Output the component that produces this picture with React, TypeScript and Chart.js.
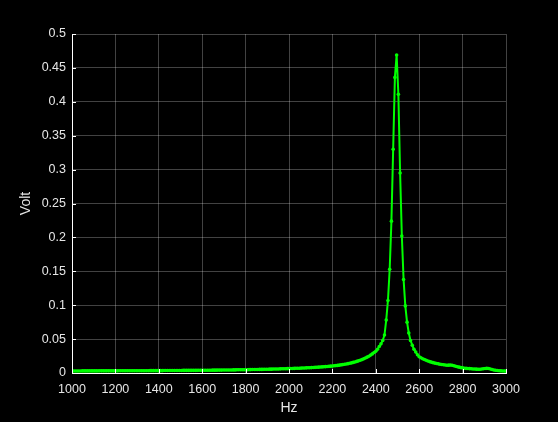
import React, { useEffect, useRef } from 'react';
import Chart from 'chart.js/auto';

// frequency sweep: 1000 Hz to 3000 Hz in 8 Hz steps
const sweepStartHz = 1000;
const sweepStepHz = 8;

// measured amplitude (Volt), one array per 200 Hz band
const volt1000 = [0.0030, 0.0030, 0.0030, 0.0030, 0.0030, 0.0030, 0.0031, 0.0031, 0.0031, 0.0031, 0.0031, 0.0031, 0.0031, 0.0031, 0.0031, 0.0031, 0.0032, 0.0032, 0.0032, 0.0032, 0.0032, 0.0032, 0.0032, 0.0032, 0.0032];
const volt1200 = [0.0032, 0.0032, 0.0033, 0.0033, 0.0033, 0.0033, 0.0033, 0.0033, 0.0033, 0.0033, 0.0033, 0.0033, 0.0034, 0.0034, 0.0034, 0.0034, 0.0034, 0.0034, 0.0034, 0.0034, 0.0035, 0.0035, 0.0035, 0.0035, 0.0035];
const volt1400 = [0.0035, 0.0035, 0.0035, 0.0036, 0.0036, 0.0036, 0.0036, 0.0036, 0.0036, 0.0037, 0.0037, 0.0037, 0.0037, 0.0037, 0.0038, 0.0038, 0.0038, 0.0038, 0.0038, 0.0039, 0.0039, 0.0039, 0.0039, 0.0040, 0.0040];
const volt1600 = [0.0040, 0.0040, 0.0041, 0.0041, 0.0041, 0.0041, 0.0042, 0.0042, 0.0042, 0.0043, 0.0043, 0.0043, 0.0044, 0.0044, 0.0044, 0.0045, 0.0045, 0.0045, 0.0046, 0.0046, 0.0047, 0.0047, 0.0047, 0.0048, 0.0048];
const volt1800 = [0.0049, 0.0049, 0.0050, 0.0050, 0.0051, 0.0051, 0.0052, 0.0052, 0.0053, 0.0053, 0.0054, 0.0055, 0.0055, 0.0056, 0.0057, 0.0057, 0.0058, 0.0059, 0.0059, 0.0060, 0.0061, 0.0062, 0.0063, 0.0063, 0.0064];
const volt2000 = [0.0065, 0.0066, 0.0067, 0.0068, 0.0069, 0.0070, 0.0071, 0.0072, 0.0073, 0.0074, 0.0076, 0.0077, 0.0078, 0.0080, 0.0081, 0.0083, 0.0084, 0.0086, 0.0088, 0.0090, 0.0092, 0.0094, 0.0096, 0.0098, 0.0101];
const volt2200 = [0.0103, 0.0106, 0.0109, 0.0112, 0.0116, 0.0120, 0.0124, 0.0128, 0.0133, 0.0138, 0.0143, 0.0149, 0.0156, 0.0163, 0.0171, 0.0179, 0.0188, 0.0198, 0.0209, 0.0221, 0.0234, 0.0248, 0.0264, 0.0282, 0.0302];
const volt2400 = [0.032, 0.035, 0.039, 0.043, 0.048, 0.056, 0.078, 0.107, 0.153, 0.224, 0.330, 0.436, 0.469, 0.411, 0.295, 0.202, 0.138, 0.099, 0.075, 0.059, 0.048, 0.041, 0.035, 0.031, 0.027];
const volt2600 = [0.0240, 0.0225, 0.0211, 0.0199, 0.0188, 0.0177, 0.0168, 0.0160, 0.0153, 0.0146, 0.0140, 0.0135, 0.0130, 0.0125, 0.0121, 0.0117, 0.0115, 0.0116, 0.0118, 0.0115, 0.0108, 0.0100, 0.0092, 0.0086, 0.0080];
const volt2800 = [0.0075, 0.0071, 0.0068, 0.0066, 0.0064, 0.0062, 0.0060, 0.0058, 0.0057, 0.0056, 0.0056, 0.0058, 0.0062, 0.0066, 0.0068, 0.0066, 0.0060, 0.0052, 0.0045, 0.0040, 0.0036, 0.0034, 0.0032, 0.0030, 0.0029, 0.0028];

const volts = [
  ...volt1000, ...volt1200, ...volt1400, ...volt1600, ...volt1800,
  ...volt2000, ...volt2200, ...volt2400, ...volt2600, ...volt2800,
];

const xMin = 1000;
const xMax = 3000;
const xStep = 200;
const yMin = 0;
const yMax = 0.5;
const yStep = 0.05;

const GREEN = '#00ff00';
const LABEL = '#e6e6e6';
const FONT = '"Liberation Sans", Arial, sans-serif';

// MATLAB style: short white ticks pointing into the plot
const inwardTicks = {
  id: 'inwardTicks',
  afterDraw(chart: any) {
    const { ctx, chartArea, scales } = chart;
    ctx.save();
    ctx.strokeStyle = '#ffffff';
    ctx.lineWidth = 1;
    ctx.beginPath();
    scales.x.ticks.forEach((t: any) => {
      const px = Math.round(scales.x.getPixelForValue(t.value)) + 0.5;
      ctx.moveTo(px, chartArea.bottom);
      ctx.lineTo(px, chartArea.bottom - 4);
    });
    scales.y.ticks.forEach((t: any) => {
      const py = Math.round(scales.y.getPixelForValue(t.value)) + 0.5;
      ctx.moveTo(chartArea.left, py);
      ctx.lineTo(chartArea.left + 4, py);
    });
    ctx.stroke();
    ctx.restore();
  },
};

export default function App() {
  const canvasRef = useRef<HTMLCanvasElement>(null);
  const chartRef = useRef<Chart | null>(null);

  useEffect(() => {
    if (!canvasRef.current) return;
    if (chartRef.current) chartRef.current.destroy();

    const points = volts.map((v, i) => ({ x: sweepStartHz + i * sweepStepHz, y: v }));

    chartRef.current = new Chart(canvasRef.current, {
      type: 'line',
      data: {
        datasets: [
          {
            data: points,
            borderColor: GREEN,
            backgroundColor: GREEN,
            borderWidth: 2,
            pointRadius: 1.8,
            pointBorderWidth: 0,
            pointBackgroundColor: GREEN,
            tension: 0,
            fill: false,
          },
        ],
      },
      options: {
        responsive: true,
        maintainAspectRatio: false,
        animation: false,
        events: [],
        layout: { padding: { top: 34, right: 52, bottom: 0, left: 0 } },
        plugins: {
          legend: { display: false },
          tooltip: { enabled: false },
        },
        scales: {
          x: {
            type: 'linear',
            min: xMin,
            max: xMax,
            afterFit: (scale: any) => { scale.height = 49; },
            ticks: {
              stepSize: xStep,
              color: LABEL,
              padding: 9,
              maxRotation: 0,
              font: { family: FONT, size: 12.5 },
              callback: (v: any) => String(v),
            },
            grid: { color: 'rgba(255,255,255,0.26)', drawTicks: false },
            border: { display: true, color: '#ffffff', width: 1 },
            title: {
              display: true,
              text: 'Hz',
              color: LABEL,
              font: { family: FONT, size: 14 },
              padding: { top: 0, bottom: 5 },
            },
          },
          y: {
            type: 'linear',
            min: yMin,
            max: yMax,
            afterFit: (scale: any) => { scale.width = 72; },
            ticks: {
              stepSize: yStep,
              color: LABEL,
              padding: 6,
              font: { family: FONT, size: 12.5 },
              callback: (v: any) => String(Number(Number(v).toFixed(2))),
            },
            grid: { color: 'rgba(255,255,255,0.26)', drawTicks: false },
            border: { display: true, color: '#ffffff', width: 1 },
            title: {
              display: true,
              text: 'Volt',
              color: LABEL,
              font: { family: FONT, size: 14 },
              padding: { top: 18, bottom: 0 },
            },
          },
        },
      },
      plugins: [inwardTicks],
    });

    return () => {
      if (chartRef.current) {
        chartRef.current.destroy();
        chartRef.current = null;
      }
    };
  }, []);

  return (
    <div style={{ position: 'fixed', left: 0, top: 0, width: 558, height: 422, background: '#000' }}>
      <canvas ref={canvasRef}></canvas>
    </div>
  );
}
